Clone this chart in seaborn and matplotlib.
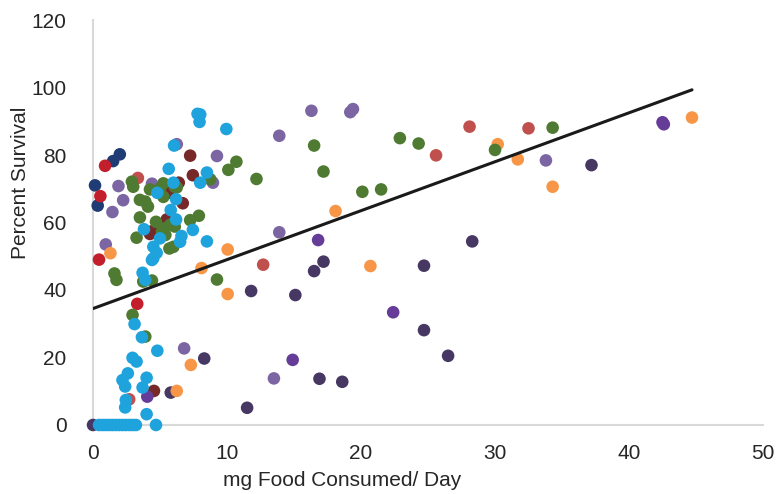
import numpy as np
import pandas as pd
import seaborn as sns
import matplotlib.pyplot as plt

# values, one list pair per colour series
navy_x = [0.15, 0.35, 1.5, 2.0]
navy_y = [71.0, 65.0, 78.2, 80.2]

red_x = [0.55, 0.9, 0.45, 3.3]
red_y = [67.8, 76.8, 49.0, 35.9]

mred_x = [3.35, 2.7, 12.7, 25.6, 28.1, 32.5]
mred_y = [73.2, 7.6, 47.5, 79.9, 88.4, 87.9]

maroon_x = [7.25, 7.45, 6.4, 5.7, 6.7, 5.5, 4.4, 4.25, 4.55]
maroon_y = [79.8, 74.0, 71.8, 68.8, 65.7, 60.9, 57.4, 56.6, 10.1]

lpurple_x = [6.25, 9.25, 1.9, 4.4, 2.25, 1.45, 0.95, 8.95, 16.3, 19.2, 19.4,
             13.9, 13.9, 33.8, 6.8, 13.5]
lpurple_y = [83.2, 79.7, 70.8, 71.5, 66.6, 63.1, 53.5, 71.8, 93.1, 92.7, 93.6,
             85.7, 57.1, 78.4, 22.7, 13.8]

purple_x = [16.8, 22.4, 14.9, 4.05, 42.5, 42.6]
purple_y = [54.8, 33.4, 19.3, 8.4, 89.7, 89.1]

dpurple_x = [0.0, 28.3, 17.2, 16.5, 24.7, 11.8, 15.1, 24.7, 26.5, 8.3, 16.9,
             18.6, 11.5, 5.8, 37.2]
dpurple_y = [0.0, 54.4, 48.4, 45.6, 47.2, 39.7, 38.5, 28.1, 20.5, 19.7, 13.7,
             12.8, 5.1, 9.6, 77.0]

orange_x = [1.3, 10.05, 8.1, 10.05, 7.3, 6.25, 18.1, 20.7, 30.2, 31.7, 34.3, 44.7]
orange_y = [50.9, 52.0, 46.5, 38.8, 17.8, 10.1, 63.4, 47.1, 83.2, 78.7, 70.6, 91.1]

green_x = [2.9, 3.0, 4.25, 5.25, 5.0, 6.1, 3.5, 3.9, 4.1, 5.25, 3.5, 4.7, 5.75,
           6.1, 7.25, 7.9, 5.25, 3.25, 8.75, 10.1, 10.7, 12.2, 16.5, 17.2, 20.1,
           21.5, 22.9, 24.3, 30.0, 34.3, 5.15, 5.4, 5.7, 6.0, 3.75, 4.4, 1.6,
           1.75, 9.25, 2.95, 3.9, 6.25]
green_y = [72.1, 70.6, 69.8, 71.6, 70.1, 70.6, 66.7, 66.2, 64.7, 67.6, 61.5,
           60.2, 59.3, 58.8, 60.7, 62.0, 58.2, 55.5, 72.8, 75.6, 78.0, 72.9,
           82.8, 75.1, 69.1, 69.8, 85.0, 83.4, 81.5, 88.1, 57.3, 56.3, 52.3,
           52.8, 42.5, 42.8, 44.9, 43.0, 43.1, 32.6, 26.2, 70.4]

cyan_x = [7.8, 8.0, 7.95, 9.95, 6.05, 5.65, 8.5, 8.0, 6.0, 4.8, 6.2, 5.8, 6.2,
          3.8, 7.45, 5.0, 6.6, 8.5, 6.5, 4.5, 4.75, 4.5, 4.4, 3.7, 3.9, 3.1,
          3.65, 4.8, 2.95, 3.25, 2.6, 4.0, 2.2, 2.4, 3.7, 2.45, 2.4, 4.0,
          0.45, 0.7, 0.95, 1.2, 1.45, 1.7, 1.95, 2.2, 2.45, 2.7, 2.95, 3.2, 4.7]
cyan_y = [92.2, 92.0, 89.8, 87.7, 82.8, 75.9, 74.8, 71.8, 71.8, 68.8, 66.9,
          63.7, 60.9, 58.0, 57.8, 55.3, 56.0, 54.4, 54.3, 52.8, 51.0, 49.4,
          48.9, 45.1, 43.0, 29.9, 26.0, 22.0, 19.9, 18.8, 15.3, 14.0, 13.3,
          11.4, 11.1, 7.4, 5.2, 3.2,
          0, 0, 0, 0, 0, 0, 0, 0, 0, 0, 0, 0, 0]

# linear trendline as shown on the chart
trend_intercept = 34.5
trend_slope = 1.45

series = [
    ("navy", navy_x, navy_y, "#1F3C74"),
    ("red", red_x, red_y, "#C31E2B"),
    ("muted red", mred_x, mred_y, "#C0504D"),
    ("maroon", maroon_x, maroon_y, "#772828"),
    ("light purple", lpurple_x, lpurple_y, "#7B66A3"),
    ("purple", purple_x, purple_y, "#653C98"),
    ("dark purple", dpurple_x, dpurple_y, "#463763"),
    ("orange", orange_x, orange_y, "#F79646"),
    ("green", green_x, green_y, "#4F7A31"),
    ("cyan", cyan_x, cyan_y, "#1FA3DC"),
]

frames = []
for name, xs, ys, _ in series:
    frames.append(pd.DataFrame({"food": xs, "survival": ys, "group": name}))
df = pd.concat(frames, ignore_index=True)
palette = {name: col for name, _, _, col in series}

sns.set_style("white")
plt.rcParams["font.family"] = ["Liberation Sans", "DejaVu Sans"]

fig, ax = plt.subplots(figsize=(7.77, 4.94), dpi=100)
fig.subplots_adjust(left=0.1197, right=0.982, top=0.9595, bottom=0.1397)

sns.scatterplot(data=df, x="food", y="survival", hue="group", palette=palette,
                s=82, linewidth=0, legend=False, ax=ax, clip_on=False, zorder=3)

tx = np.array([0, df["food"].max()])
ax.plot(tx, trend_intercept + trend_slope * tx, color="#1A1A1A", lw=2.2, zorder=4)

ax.set_xlim(0, 50)
ax.set_ylim(0, 120)
ax.set_xticks(range(0, 51, 10))
ax.set_yticks(range(0, 121, 20))
ax.tick_params(length=0, labelsize=15, colors="#262626")
ax.tick_params(axis="y", pad=19)
ax.tick_params(axis="x", pad=14)
for side in ["top", "right"]:
    ax.spines[side].set_visible(False)
for side in ["left", "bottom"]:
    ax.spines[side].set_color("#D9D9D9")
    ax.spines[side].set_linewidth(1.5)

ax.set_xlabel("mg Food Consumed/ Day", fontsize=15, color="#262626")
ax.set_ylabel("Percent Survival", fontsize=15, color="#262626")
ax.xaxis.set_label_coords(0.372, -0.114)
ax.yaxis.set_label_coords(-0.094, 0.597)

plt.savefig("out.png", dpi=100)
